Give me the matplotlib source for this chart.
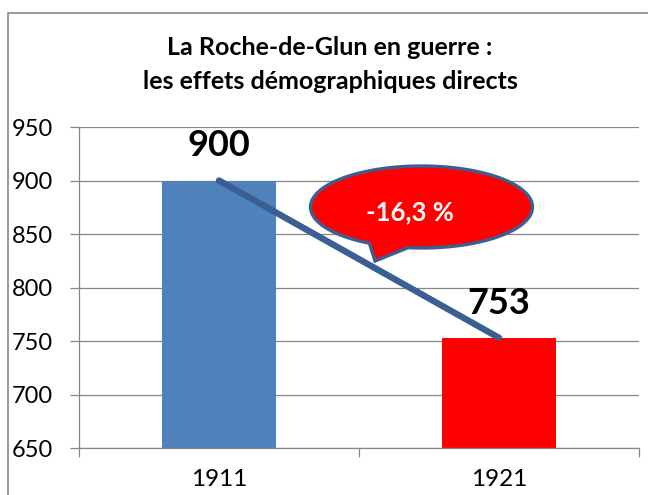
import numpy as np
import matplotlib
matplotlib.use("Agg")
import matplotlib.pyplot as plt
from matplotlib.path import Path
from matplotlib.patches import PathPatch
from matplotlib.lines import Line2D

# ── data ──────────────────────────────────────────────────────────────────────
years = ["1911", "1921"]
population = [900, 753]
bar_colors = ["#4F81BD", "#FF0000"]
change_label = "-16,3 %"
title = "La Roche-de-Glun en guerre :\nles effets démographiques directs"
y_ticks = [650, 700, 750, 800, 850, 900, 950]

plt.rcParams["font.family"] = ["Lato", "DejaVu Sans"]

W, H = 648, 495
fig = plt.figure(figsize=(W / 100, H / 100), dpi=100)

# plot area in pixels: x 79..639, y 127..448
ax = fig.add_axes([79 / W, 1 - 448 / H, 560 / W, 321 / H])

x = np.arange(len(years))
ax.bar(x, population, width=0.404, color=bar_colors, zorder=2)
ax.plot(x, population, color="#3B5F92", lw=4.6, solid_capstyle="round", zorder=3)

for xi, v in zip(x, population):
    ax.annotate(f"{v}", (xi, v), xytext=(0, 25), textcoords="offset points",
                ha="center", va="center", fontsize=26, fontweight="bold", color="black",
                zorder=4)

ax.set_xlim(-0.5, 1.5)
ax.set_ylim(650, 950)
ax.set_yticks(y_ticks)
ax.yaxis.grid(True, color="#868686", lw=0.9, zorder=0)
ax.set_axisbelow(True)
ax.tick_params(axis="y", length=6.5, width=0.9, color="#868686", pad=12,
               labelsize=17, labelcolor="black")

# category boundaries as major ticks, labels at centres
ax.set_xticks([-0.5, 0.5, 1.5])
ax.set_xticklabels([])
ax.set_xticks(x, minor=True)
ax.set_xticklabels(years, minor=True)
ax.tick_params(axis="x", which="major", length=6.5, width=0.9, color="#868686")
ax.tick_params(axis="x", which="minor", length=0, pad=15, labelsize=17.5)

for s in ["top", "right"]:
    ax.spines[s].set_visible(False)
for s in ["left", "bottom"]:
    ax.spines[s].set_color("#868686")
    ax.spines[s].set_linewidth(0.9)

# ── callout bubble (pixel layout) ─────────────────────────────────────────────
cx, cy, a, b = 421.5, 207, 111, 41
t_right, t_left = np.deg2rad(97), np.deg2rad(118)
tip = (375, 261)
ts = np.linspace(t_left, t_right + 2 * np.pi, 200)
px = list(cx + a * np.cos(ts)) + [tip[0]]
py = list(cy + b * np.sin(ts)) + [tip[1]]
px.append(px[0]); py.append(py[0])
verts = np.column_stack([np.array(px) / W, 1 - np.array(py) / H])
codes = [Path.MOVETO] + [Path.LINETO] * (len(verts) - 2) + [Path.CLOSEPOLY]
bubble = PathPatch(Path(verts, codes), facecolor="#FF0000", edgecolor="#3B5F92",
                   lw=2.4, transform=fig.transFigure, zorder=5)
fig.patches.append(bubble)
fig.text(410 / W, 1 - 212 / H, change_label, color="white", fontsize=18.5,
         fontweight="bold", ha="center", va="center", zorder=6)

# title
fig.text(330 / W, 1 - 64.5 / H, title, ha="center", va="center", fontsize=18,
         fontweight="bold", linespacing=1.55)

# chart border (left and top edges visible)
fig.add_artist(Line2D([8 / W, 8 / W, 647 / W], [0, 1 - 13 / H, 1 - 13 / H],
                      transform=fig.transFigure, color="#888888", lw=1.2))

fig.savefig("out.png", dpi=100)
